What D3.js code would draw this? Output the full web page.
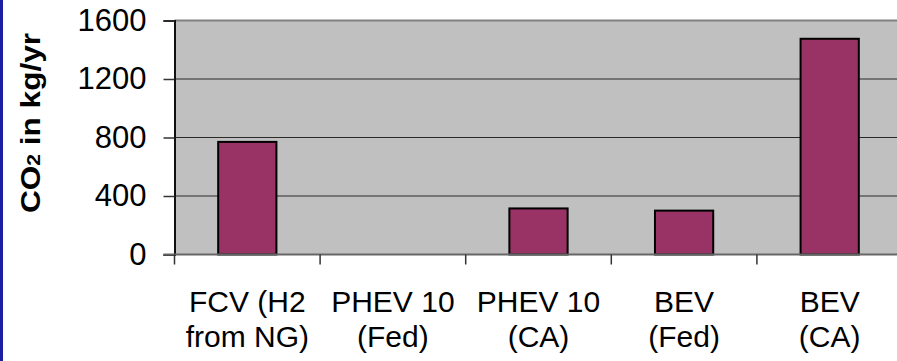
<!DOCTYPE html>
<html>
<head>
<meta charset="utf-8">
<style>
  body { margin: 0; background: #fff; }
  svg { display: block; font-family: Arial, "Liberation Sans", sans-serif; }
</style>
</head>
<body>
<svg id="chart" width="897" height="361"></svg>
<script src="https://d3js.org/d3.v7.min.js"></script>
<script>
var categories = ['FCV (H2|from NG)', 'PHEV 10|(Fed)', 'PHEV 10|(CA)', 'BEV|(Fed)', 'BEV|(CA)']
var co2Values = [770, 0, 315, 300, 1475]
var yTicks = [0, 400, 800, 1200, 1600]

var width = 897,
    height = 361,
    margin = {top: 20.5, left: 174.5, bottom: 254.5},
    step = 145.6

var svg = d3.select('#chart')

// blue frame strip on the left edge
svg.append('rect').attr('x', 0).attr('y', 0).attr('width', 3).attr('height', height).attr('fill', '#1e1ea0')

var x = d3.scaleBand()
  .domain(categories)
  .range([margin.left, margin.left + step * categories.length])
  .paddingInner(0.6)
  .paddingOuter(0.3)

var y = d3.scaleLinear()
  .domain([0, 1600])
  .range([margin.bottom, margin.top])

// plot area
svg.append('rect')
  .attr('x', margin.left)
  .attr('y', margin.top)
  .attr('width', step * categories.length)
  .attr('height', margin.bottom - margin.top)
  .attr('fill', '#c0c0c0')

// grid lines
svg.append('g')
  .selectAll('line')
  .data(yTicks.filter(d => d > 0 && d < 1600))
  .enter().append('line')
  .attr('x1', margin.left).attr('x2', width)
  .attr('y1', d => y(d)).attr('y2', d => y(d))
  .attr('stroke', '#2a2a2a').attr('stroke-width', 1.2)

// top border
svg.append('line')
  .attr('x1', margin.left).attr('x2', width)
  .attr('y1', margin.top).attr('y2', margin.top)
  .attr('stroke', '#808080').attr('stroke-width', 2)

// bars
svg.append('g')
  .selectAll('rect')
  .data(co2Values)
  .enter().append('rect')
  .attr('x', (d, i) => x(categories[i]))
  .attr('y', d => y(d))
  .attr('width', x.bandwidth())
  .attr('height', d => y(0) - y(d))
  .attr('fill', '#993366')
  .attr('stroke', d => d > 0 ? '#000' : 'none')
  .attr('stroke-width', 2)

// y axis
var yAxis = d3.axisLeft(y).tickValues(yTicks).tickFormat(d3.format('d')).tickSize(11).tickPadding(17)
var gy = svg.append('g').attr('transform', `translate(${margin.left},0)`).call(yAxis)
gy.select('.domain').attr('stroke', '#111').attr('stroke-width', 2)
gy.selectAll('.tick line').attr('stroke', '#333').attr('stroke-width', 1.5)
gy.selectAll('.tick text').style('font-size', '31px').attr('fill', '#000')
  .attr('font-family', 'Arial, "Liberation Sans", sans-serif')

// x axis line and category ticks
svg.append('line')
  .attr('x1', margin.left - 11).attr('x2', width)
  .attr('y1', margin.bottom).attr('y2', margin.bottom)
  .attr('stroke', '#666').attr('stroke-width', 2)

svg.append('g')
  .selectAll('line')
  .data(categories)
  .enter().append('line')
  .attr('x1', d => x(d) - x.step() * 0.3).attr('x2', d => x(d) - x.step() * 0.3)
  .attr('y1', margin.bottom).attr('y2', margin.bottom + 10)
  .attr('stroke', '#333').attr('stroke-width', 1.5)

// category labels
var labels = svg.append('g')
  .selectAll('text')
  .data(categories)
  .enter().append('text')
  .attr('text-anchor', 'middle')
  .attr('font-size', 30)
  .attr('fill', '#000')

labels.selectAll('tspan')
  .data(d => d.split('|').map(t => ({t: t, cx: x(d) + x.bandwidth() / 2})))
  .enter().append('tspan')
  .attr('x', d => d.cx)
  .attr('y', (d, i) => 311.5 + i * 35)
  .text(d => d.t)

// y axis title
var title = svg.append('text')
  .attr('transform', 'translate(40,123) rotate(-90)')
  .attr('text-anchor', 'middle')
  .attr('font-size', 27)
  .attr('font-weight', 'bold')
  .attr('textLength', 180)
  .attr('lengthAdjust', 'spacingAndGlyphs')
title.append('tspan').text('CO')
title.append('tspan').attr('font-size', 18).text('2')
title.append('tspan').text(' in kg/yr')
</script>
</body>
</html>
